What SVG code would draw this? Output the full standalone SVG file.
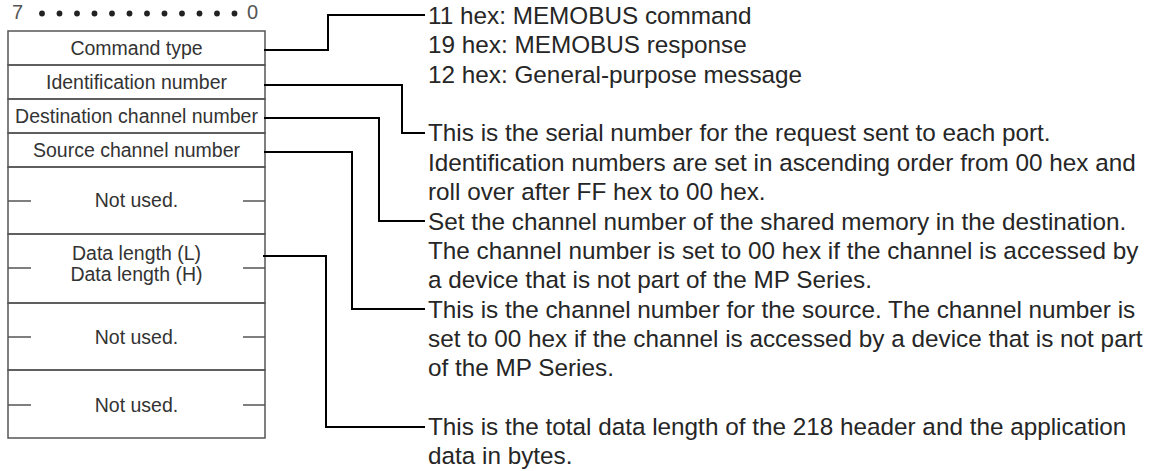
<svg xmlns="http://www.w3.org/2000/svg" width="1150" height="471" viewBox="0 0 1150 471">
<style>
.lt{font-family:"Liberation Sans",Arial,sans-serif;font-size:19.5px;fill:#333;text-anchor:middle}
.rt{font-family:"Liberation Sans",Arial,sans-serif;font-size:24.3px;fill:#262626}
.hd{font-family:"Liberation Sans",Arial,sans-serif;font-size:20px;fill:#555}
.row{stroke:#555;stroke-width:1.5;fill:none}
.dash{stroke:#555;stroke-width:1.4}
.con{stroke:#000;stroke-width:2;fill:none}
</style>
<rect width="1150" height="471" fill="#fff"/>
<g id="header">
<text class="hd" x="12" y="19">7</text>
<g fill="#222">
<circle cx="42" cy="13.5" r="2.9"/><circle cx="59.5" cy="13.5" r="2.9"/><circle cx="77" cy="13.5" r="2.9"/><circle cx="94.5" cy="13.5" r="2.9"/><circle cx="112" cy="13.5" r="2.9"/><circle cx="129.5" cy="13.5" r="2.9"/><circle cx="147" cy="13.5" r="2.9"/><circle cx="164.5" cy="13.5" r="2.9"/><circle cx="182" cy="13.5" r="2.9"/><circle cx="199.5" cy="13.5" r="2.9"/><circle cx="217" cy="13.5" r="2.9"/><circle cx="234.5" cy="13.5" r="2.9"/>
</g>
<text class="hd" x="247" y="19">0</text>
</g>
<g id="frame">
<rect id="command-type" class="row" x="8" y="31" width="257" height="34"/>
<rect id="identification-number" class="row" x="8" y="65" width="257" height="34"/>
<rect id="destination-channel" class="row" x="8" y="99" width="257" height="34"/>
<rect id="source-channel" class="row" x="8" y="133" width="257" height="34"/>
<rect id="not-used-1" class="row" x="8" y="167" width="257" height="67"/>
<rect id="data-length" class="row" x="8" y="234" width="257" height="69"/>
<rect id="not-used-2" class="row" x="8" y="303" width="257" height="67"/>
<rect id="not-used-3" class="row" x="8" y="370" width="257" height="68"/>
</g>
<g id="labels">
<text class="lt" x="136.5" y="55">Command type</text>
<text class="lt" x="136.5" y="89">Identification number</text>
<text class="lt" x="136.5" y="123">Destination channel number</text>
<text class="lt" x="136.5" y="157">Source channel number</text>
<text class="lt" x="136.5" y="207">Not used.</text>
<text class="lt" x="136.5" y="260">Data length (L)</text>
<text class="lt" x="136.5" y="281">Data length (H)</text>
<text class="lt" x="136.5" y="344">Not used.</text>
<text class="lt" x="136.5" y="412">Not used.</text>
</g>
<g id="dashes">
<path class="dash" d="M8 201H31M243 201H265M8 268H31M243 268H265M8 337H31M243 337H265M8 405H31M243 405H265"/>
</g>
<g id="connectors">
<path class="con" d="M264 50H328V15H425"/>
<path class="con" d="M264 85H402V133H425"/>
<path class="con" d="M264 118H379V221H425"/>
<path class="con" d="M264 152H352V309H425"/>
<path class="con" d="M263 256H326V427H425"/>
</g>
<g id="descriptions">
<text class="rt" x="428" y="24">11 hex: MEMOBUS command</text>
<text class="rt" x="428" y="53.4">19 hex: MEMOBUS response</text>
<text class="rt" x="428" y="82.7">12 hex: General-purpose message</text>
<text class="rt" x="428" y="141.4">This is the serial number for the request sent to each port.</text>
<text class="rt" x="428" y="170.8">Identification numbers are set in ascending order from 00 hex and</text>
<text class="rt" x="428" y="200.2">roll over after FF hex to 00 hex.</text>
<text class="rt" x="428" y="229.5">Set the channel number of the shared memory in the destination.</text>
<text class="rt" x="428" y="258.9">The channel number is set to 00 hex if the channel is accessed by</text>
<text class="rt" x="428" y="288.2">a device that is not part of the MP Series.</text>
<text class="rt" x="428" y="317.6">This is the channel number for the source. The channel number is</text>
<text class="rt" x="428" y="347">set to 00 hex if the channel is accessed by a device that is not part</text>
<text class="rt" x="428" y="376.3">of the MP Series.</text>
<text class="rt" x="428" y="435">This is the total data length of the 218 header and the application</text>
<text class="rt" x="428" y="464.4">data in bytes.</text>
</g>
</svg>
